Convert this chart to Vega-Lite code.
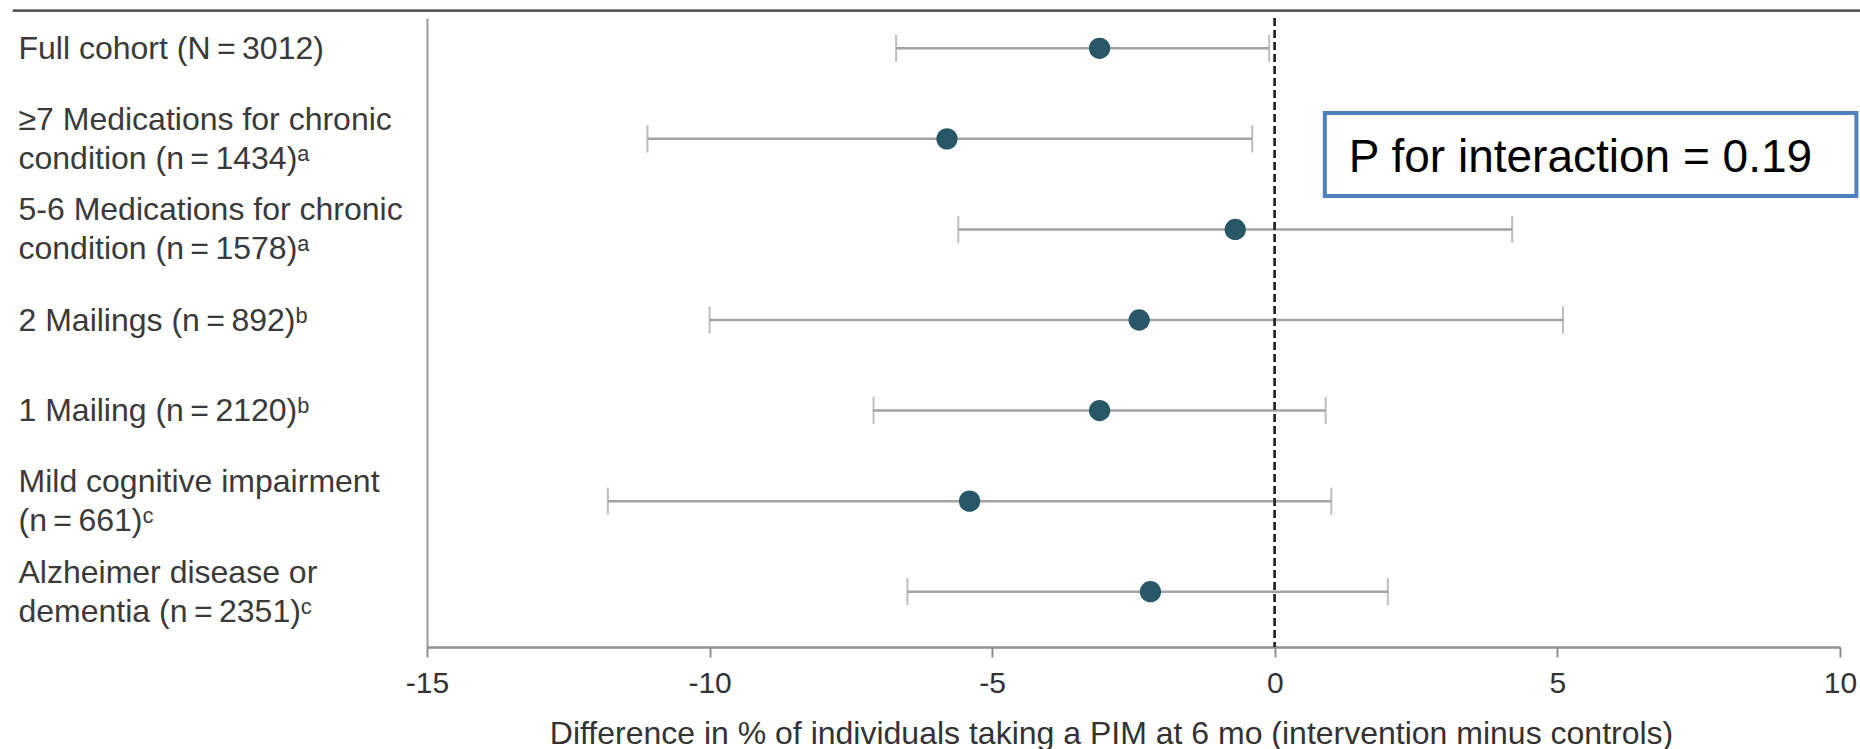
{
  "$schema": "https://vega.github.io/schema/vega-lite/v6.json",
  "autosize": {"type": "none"},
  "padding": {"left": 427, "top": 18, "right": 20, "bottom": 102},
  "width": 1413,
  "height": 629,
  "background": "white",
  "config": {"view": {"stroke": null}, "font": "Liberation Sans"},
  "datasets": {
    "rows": [
      {"label": "Full cohort (N\u2009=\u20093012)", "est": -3.1, "lo": -6.7, "hi": -0.1},
      {"label": "\u22657 Medications for chronic|condition (n\u2009=\u20091434)\u1d43", "est": -5.8, "lo": -11.1, "hi": -0.4},
      {"label": "5-6 Medications for chronic|condition (n\u2009=\u20091578)\u1d43", "est": -0.7, "lo": -5.6, "hi": 4.2},
      {"label": "2 Mailings (n\u2009=\u2009892)\u1d47", "est": -2.4, "lo": -10.0, "hi": 5.1},
      {"label": "1 Mailing (n\u2009=\u20092120)\u1d47", "est": -3.1, "lo": -7.1, "hi": 0.9},
      {"label": "Mild cognitive impairment|(n\u2009=\u2009661)\u1d9c", "est": -5.4, "lo": -11.8, "hi": 1.0},
      {"label": "Alzheimer disease or|dementia (n\u2009=\u20092351)\u1d9c", "est": -2.2, "lo": -6.5, "hi": 2.0}
    ],
    "box": [{"x1": 0.885, "x2": 10.29, "y1": 1.714, "y2": 2.631, "tx": 1.31, "ty": 2.362, "text": "P for interaction = 0.19"}],
    "topline": [{"x1": -22.33, "x2": 10.7, "y": 0.583}]
  },
  "resolve": {"scale": {"y": "independent"}, "axis": {"y": "independent"}},
  "layer": [
    {
      "data": {"name": "rows"},
      "encoding": {
        "y": {
          "field": "label", "type": "nominal", "sort": null,
          "scale": {"type": "point", "padding": 0.4726, "align": 0.354},
          "axis": {
            "title": null, "domain": true, "domainColor": "#9a9a9a", "domainWidth": 2,
            "ticks": false, "tickSize": 0, "grid": false,
            "labelAlign": "left", "labelPadding": 409, "labelBaseline": "middle",
            "labelOffset": {"condition": {"test": "indexof(datum.label, '|') >= 0", "value": -19.5}, "value": 0},
            "labelFont": "Liberation Sans", "labelFontSize": 32, "labelColor": "#3a3a3a",
            "labelLimit": 0, "labelLineHeight": 39,
            "labelExpr": "split(datum.label, '|')"
          }
        }
      },
      "layer": [
        {
          "mark": {"type": "rule", "color": "#a3a3a3", "strokeWidth": 2.5},
          "encoding": {
            "x": {
              "field": "lo", "type": "quantitative",
              "scale": {"domain": [-15, 10], "nice": false, "zero": false},
              "axis": {
                "values": [-15, -10, -5, 0, 5, 10], "grid": false,
                "domainColor": "#8f8f8f", "domainWidth": 2.5,
                "tickColor": "#8f8f8f", "tickWidth": 2, "tickSize": 10,
                "labelFont": "Liberation Sans", "labelFontSize": 30, "labelColor": "#333333",
                "labelFlush": false, "labelOverlap": false,
                "labelExpr": "'' + datum.value",
                "labelBaseline": "alphabetic", "labelPadding": 35,
                "title": "Difference in % of individuals taking a PIM at 6 mo (intervention minus controls)",
                "titleFont": "Liberation Sans", "titleFontSize": 32, "titleFontWeight": "normal",
                "titleColor": "#333333", "titleBaseline": "alphabetic", "titleAlign": "center",
                "titleX": 684, "titleY": 96
              }
            },
            "x2": {"field": "hi"}
          }
        },
        {
          "mark": {"type": "tick", "color": "#a3a3a3", "size": 27, "thickness": 2},
          "encoding": {"x": {"field": "lo", "type": "quantitative", "scale": {"domain": [-15, 10], "nice": false, "zero": false}}}
        },
        {
          "mark": {"type": "tick", "color": "#a3a3a3", "size": 27, "thickness": 2},
          "encoding": {"x": {"field": "hi", "type": "quantitative", "scale": {"domain": [-15, 10], "nice": false, "zero": false}}}
        },
        {
          "mark": {"type": "rule", "color": "#2b2b2b", "strokeWidth": 2, "strokeDash": [8, 4]},
          "encoding": {"x": {"datum": 0, "type": "quantitative", "scale": {"domain": [-15, 10], "nice": false, "zero": false}}, "y": null}
        },
        {
          "mark": {"type": "circle", "color": "#285868", "opacity": 1, "size": 452},
          "encoding": {"x": {"field": "est", "type": "quantitative", "scale": {"domain": [-15, 10], "nice": false, "zero": false}}}
        }
      ]
    },
    {
      "data": {"name": "box"},
      "encoding": {
        "y": {"field": "y1", "type": "quantitative", "scale": {"domain": [0.6655, 7.61], "reverse": true, "nice": false, "zero": false}, "axis": null}
      },
      "layer": [
        {
          "mark": {"type": "rect", "fill": "white", "stroke": "#4F81BD", "strokeWidth": 4},
          "encoding": {
            "x": {"field": "x1", "type": "quantitative", "scale": {"domain": [-15, 10], "nice": false, "zero": false}},
            "x2": {"field": "x2"},
            "y2": {"field": "y2"}
          }
        },
        {
          "mark": {"type": "text", "align": "left", "baseline": "alphabetic", "font": "Liberation Sans", "fontSize": 46, "color": "#000000"},
          "encoding": {
            "x": {"field": "tx", "type": "quantitative", "scale": {"domain": [-15, 10], "nice": false, "zero": false}},
            "y": {"field": "ty", "type": "quantitative", "scale": {"domain": [0.6655, 7.61], "reverse": true, "nice": false, "zero": false}, "axis": null},
            "text": {"field": "text"}
          }
        }
      ]
    },
    {
      "data": {"name": "topline"},
      "mark": {"type": "rule", "color": "#5a5a5a", "strokeWidth": 2.7},
      "encoding": {
        "x": {"field": "x1", "type": "quantitative", "scale": {"domain": [-15, 10], "nice": false, "zero": false}},
        "x2": {"field": "x2"},
        "y": {"field": "y", "type": "quantitative", "scale": {"domain": [0.6655, 7.61], "reverse": true, "nice": false, "zero": false}, "axis": null}
      }
    }
  ]
}
